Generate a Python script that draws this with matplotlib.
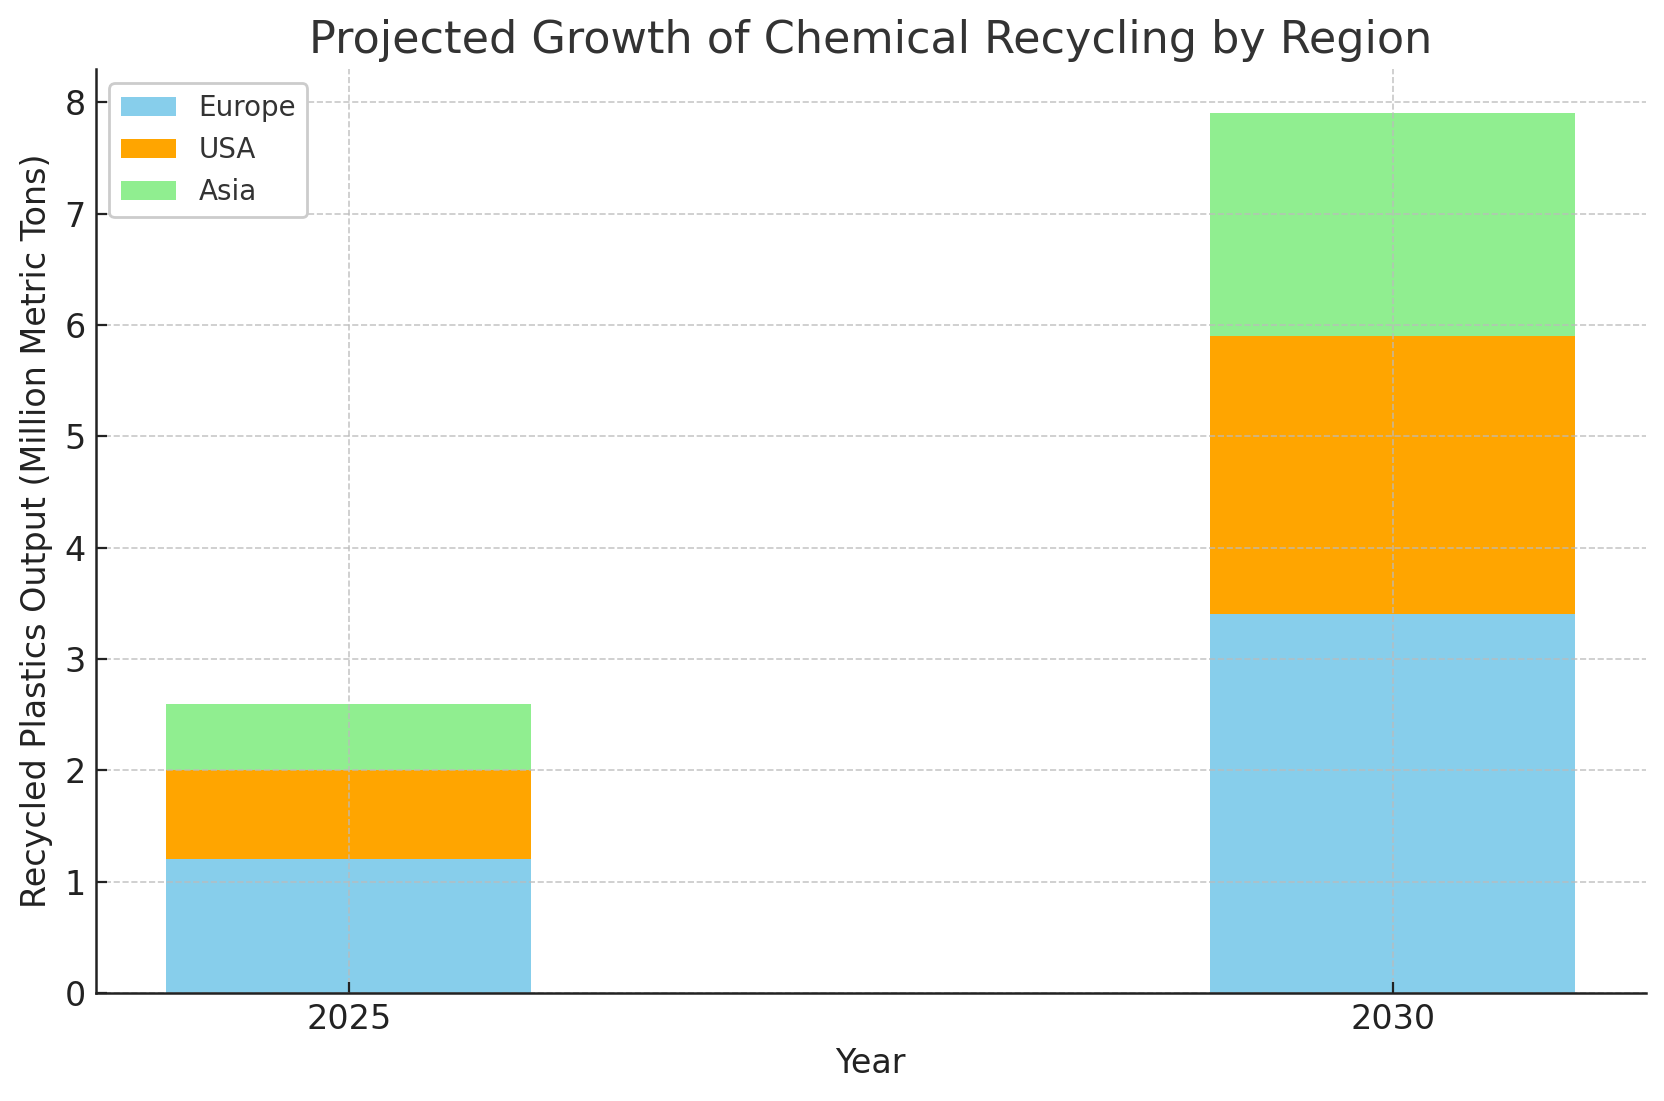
import matplotlib
matplotlib.use("Agg")
import matplotlib.pyplot as plt

years = [2025, 2030]
regions = ["Europe", "USA", "Asia"]
europe = [1.2, 3.4]
usa = [0.8, 2.5]
asia = [0.6, 2.0]
colors = ["skyblue", "orange", "lightgreen"]

plt.rcParams["font.family"] = "DejaVu Sans"
fig, ax = plt.subplots(figsize=(8.325, 5.505), dpi=200)

bottom = [0.0, 0.0]
for name, vals, c in zip(regions, [europe, usa, asia], colors):
    ax.bar(years, vals, width=1.75, bottom=bottom, color=c, label=name, zorder=1)
    bottom = [b + v for b, v in zip(bottom, vals)]

ax.set_axisbelow(False)
ax.grid(True, linestyle="--", color="#bbbbbb", linewidth=0.6, alpha=0.8, zorder=3)
ax.set_xticks(years)
ax.set_xticklabels([str(y) for y in years])
ax.tick_params(direction="in", labelsize=12, colors="#222222", labelcolor="#222222", length=4, width=0.8)
for s in ["top", "right"]:
    ax.spines[s].set_visible(False)
for s in ["left", "bottom"]:
    ax.spines[s].set_linewidth(0.9)
    ax.spines[s].set_color("#222222")
    ax.spines[s].set_zorder(4)

ax.set_title("Projected Growth of Chemical Recycling by Region", fontsize=16, color="#333333")
ax.set_xlabel("Year", fontsize=12, color="#222222")
ax.set_ylabel("Recycled Plastics Output (Million Metric Tons)", fontsize=12, color="#222222")
leg = ax.legend(loc="upper left", fontsize=10, labelcolor="#333333", framealpha=1)
leg.get_frame().set_edgecolor("#cccccc")
leg.set_zorder(5)

plt.subplots_adjust(left=0.0574, right=0.9885, top=0.937, bottom=0.098)
fig.savefig("out.png", dpi=200)
